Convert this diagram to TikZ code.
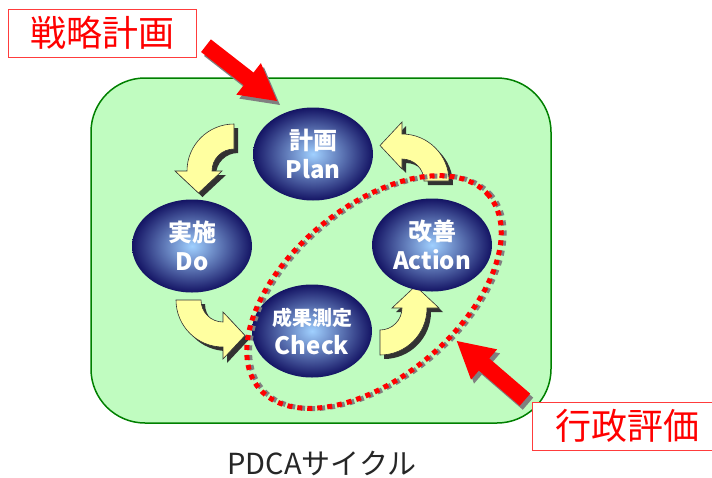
\documentclass[tikz,border=0pt]{standalone}
\usepackage{fontspec}
\setmainfont{Noto Sans CJK JP}
\usetikzlibrary{shapes.geometric}
\definecolor{boxgreen}{RGB}{192,252,192}
\definecolor{boxgreenline}{RGB}{0,128,0}
\definecolor{ballin}{RGB}{160,208,255}
\definecolor{ballout}{RGB}{20,20,100}
\definecolor{arrowyellow}{RGB}{255,255,160}
\definecolor{shadowdark}{RGB}{50,50,50}
\definecolor{shadowgray}{RGB}{128,128,128}
\definecolor{boxred}{RGB}{255,60,60}
\begin{document}
\begin{tikzpicture}[x=1pt,y=1pt,
  ball/.style={ellipse, minimum width=120pt, minimum height=93pt, inner sep=0pt,
    inner color=ballin, outer color=ballout, text=white, align=center,
    font=\bfseries\fontsize{24}{29}\selectfont},
  titlebox/.style={draw=boxred, line width=1pt, fill=white, text=red,
    minimum height=48pt, inner sep=0pt, font=\fontsize{36}{36}\selectfont},
  cyc/.pic={\path[pic actions] (90:47pt) arc[start angle=90,end angle=180,radius=47pt]
     -- (-59,0) -- (-35.5,-22) -- (-12,0) -- (-22,0)
     arc[start angle=180,end angle=90,radius=22pt] -- cycle;},
  blockarrow/.pic={\path[pic actions] (0,8) -- (54,8) -- (54,20) -- (90,0) -- (54,-20) -- (54,-8) -- (0,-8) -- cycle;},
  yarrow/.style={fill=arrowyellow, draw=shadowdark, line width=0.6pt},
  yshadow/.style={fill=shadowdark},
  dots/.style={draw=red, line width=5pt, dash pattern=on 5pt off 5pt},
  dotshadow/.style={draw=shadowgray, line width=5pt, dash pattern=on 5pt off 5pt}
]
\useasboundingbox (0,0) rectangle (712,-477);
\clip (0,0) rectangle (712,-477);

% green panel
\draw[fill=boxgreen, draw=boxgreenline, line width=1.5pt, rounded corners=54pt]
  (91,-78) rectangle (551,-423);

% curved yellow arrows (shadow then arrow)
\pic[yshadow] at (238,-175) {cyc};
\pic[yarrow] at (234,-171) {cyc};
\pic[yshadow, rotate=90] at (227,-304) {cyc};
\pic[yarrow, rotate=90] at (223,-300) {cyc};
\pic[yshadow, rotate=180] at (384,-312) {cyc};
\pic[yarrow, rotate=180] at (380,-308) {cyc};
\pic[yshadow, rotate=270] at (406,-185) {cyc};
\pic[yarrow, rotate=270] at (402,-181) {cyc};

% PDCA ellipses
\node[ball] (plan) at (313,-154) {計画\\Plan};
\node[ball] (do) at (192,-246) {実施\\Do};
\node[ball] (check) at (312,-331) {{\fontsize{20}{29}\selectfont 成果測定}\\Check};
\node[ball] (act) at (432,-245) {改善\\Action};

% dotted evaluation ellipse
\draw[dotshadow, rotate around={40:(374,-292)}] (376,-294) ellipse[x radius=150pt, y radius=85pt];
\draw[dots, rotate around={40:(374,-292)}] (374,-292) ellipse[x radius=150pt, y radius=85pt];

% labels
\node[titlebox, minimum width=188pt] (strat) at (102,-33) {戦略計画};
\node[titlebox, minimum width=190pt] (admin) at (627,-426) {行政評価};
\node[text=black!85, inner sep=0pt, font=\fontsize{29}{29}\selectfont] (caption) at (322,-463) {PDCAサイクル};

% red block arrows
\pic[fill=shadowgray, rotate=-37.9] at (209,-49.7) {blockarrow};
\pic[fill=red, rotate=-37.9] at (206,-45.7) {blockarrow};
\pic[fill=shadowgray, rotate=139.3] at (528,-403.7) {blockarrow};
\pic[fill=red, rotate=139.3] at (525,-399.7) {blockarrow};
\end{tikzpicture}
\end{document}
